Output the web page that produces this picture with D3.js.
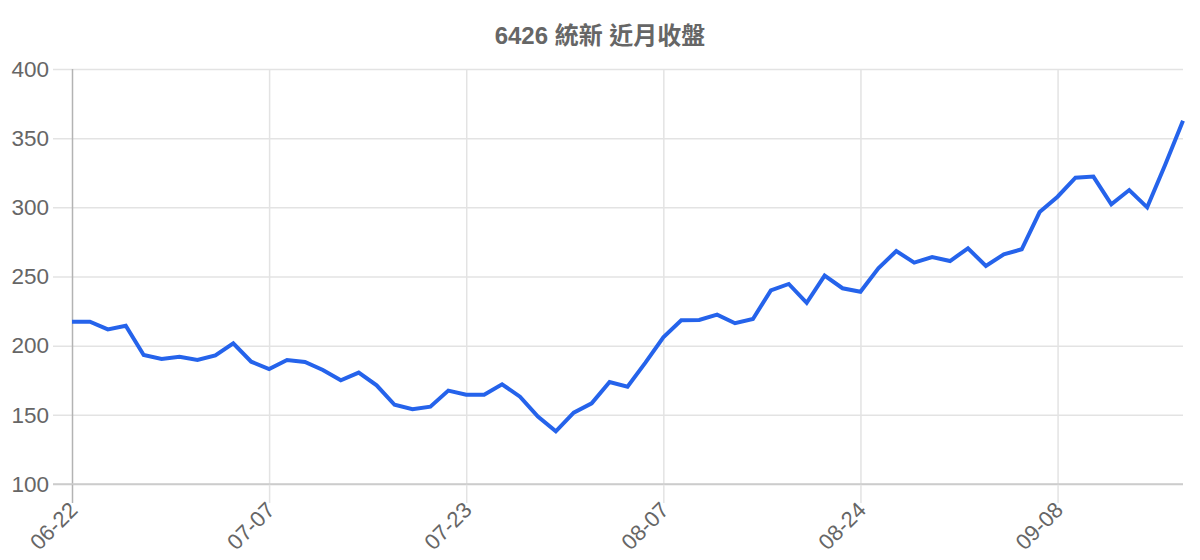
<!DOCTYPE html>
<html>
<head>
<meta charset="utf-8">
<script src="https://cdn.jsdelivr.net/npm/d3@7"></script>
<style>
  body { margin: 0; background: #fff; }
  text { font-family: "Liberation Sans", Arial, "Noto Sans CJK TC", sans-serif; }
</style>
</head>
<body>
<svg width="1200" height="560"></svg>
<script>
/* data: dates (MM-DD) and closing prices */
var dates = ["06-22","06-23","06-24","06-25","06-26","06-29","06-30","07-01","07-02","07-03",
  "07-06","07-07","07-09","07-10","07-13","07-14","07-15","07-16","07-17","07-20",
  "07-21","07-22","07-23","07-24","07-27","07-28","07-29","07-30","07-31","08-03",
  "08-04","08-05","08-06","08-07","08-10","08-11","08-12","08-13","08-14","08-17",
  "08-18","08-19","08-20","08-21","08-24","08-25","08-26","08-27","08-28","08-31",
  "09-01","09-02","09-03","09-04","09-07","09-08","09-09","09-10","09-11","09-14",
  "09-15","09-16","09-17"];
var closes = [217.3, 217.3, 211.8, 214.4, 193.3, 190.4, 192, 189.6, 193, 201.7,
  188.4, 183.1, 189.6, 188.2, 182.4, 175, 180.5, 171.3, 157.3, 154,
  155.9, 167.5, 164.5, 164.6, 172.1, 163.1, 148.7, 138.1, 151.6, 158.3,
  173.7, 170.4, 187.7, 206, 218.3, 218.6, 222.4, 216.2, 219.3, 240,
  244.6, 231, 250.6, 241.5, 239, 255.9, 268.4, 260, 264.1, 261.2,
  270.4, 257.6, 266, 269.7, 296.6, 307.7, 321.4, 322.2, 302.2, 312.5,
  300, 330.6, 362.6];
var yTicks = [100, 150, 200, 250, 300, 350, 400];
var xTickEvery = 11;
var title = "6426 統新 近月收盤";

var svg = d3.select("svg");
var plotLeft = 72, plotRight = 1183, plotTop = 69, plotBottom = 484, tickLen = 19;

var x = d3.scalePoint().domain(dates).range([plotLeft, plotRight]);
var y = d3.scaleLinear().domain([100, 400]).range([plotBottom, plotTop]);

/* title */
svg.append("text")
  .attr("x", 600)
  .attr("y", 44)
  .attr("text-anchor", "middle")
  .attr("fill", "#666")
  .attr("font-size", 24)
  .attr("font-weight", "bold")
  .text(title);

/* horizontal grid + y labels */
var gy = svg.append("g")
  .attr("transform", "translate(" + plotLeft + ",0)")
  .call(d3.axisLeft(y).tickValues(yTicks).tickSizeInner(-(plotRight - plotLeft)).tickSizeOuter(0));
gy.select(".domain").remove();
gy.selectAll(".tick line")
  .attr("x1", -tickLen)
  .attr("stroke", function(d) { return d === 100 ? "#cccccc" : "#e3e3e3"; })
  .attr("stroke-width", 1.5);
gy.selectAll(".tick text")
  .attr("fill", "#666")
  .attr("font-size", 22.5)
  .attr("x", -23);

/* vertical grid + x labels */
var xTicks = dates.filter(function(d, i) { return i % xTickEvery === 0; });
var gx = svg.append("g")
  .attr("transform", "translate(0," + plotBottom + ")")
  .call(d3.axisBottom(x).tickValues(xTicks).tickSizeInner(tickLen).tickSizeOuter(0));
gx.select(".domain").remove();
gx.selectAll(".tick line")
  .attr("y1", plotTop - plotBottom)
  .attr("stroke", function(d, i) { return i === 0 ? "#b3b3b3" : "#e3e3e3"; })
  .attr("stroke-width", 1.5);
gx.selectAll(".tick text")
  .attr("fill", "#666")
  .attr("font-size", 22)
  .attr("text-anchor", "end")
  .attr("transform", "translate(1,22) rotate(-45)")
  .attr("y", 0)
  .attr("dy", "0.35em");

/* bottom line redrawn on top of vertical grid */
svg.append("line")
  .attr("x1", plotLeft - tickLen).attr("x2", plotRight)
  .attr("y1", y(100)).attr("y2", y(100))
  .attr("stroke", "#cccccc").attr("stroke-width", 1.5);

/* price line */
var line = d3.line()
  .x(function(d, i) { return x(dates[i]); })
  .y(function(d) { return y(d); });

svg.append("path")
  .datum(closes)
  .attr("fill", "none")
  .attr("stroke", "#2563eb")
  .attr("stroke-width", 4)
  .attr("stroke-linejoin", "miter")
  .attr("d", line);
</script>
</body>
</html>
